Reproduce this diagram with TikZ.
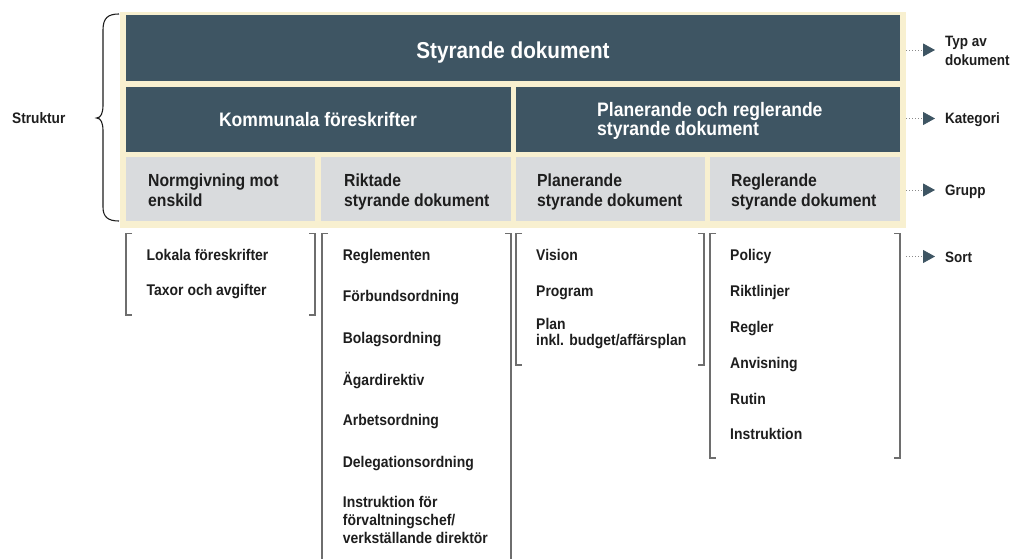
\documentclass[tikz,border=0pt]{standalone}
\usepackage{fontspec}
\setmainfont{Liberation Sans}[FakeStretch=0.9]
\usetikzlibrary{arrows.meta}

\definecolor{slate}{HTML}{3E5563}
\definecolor{cream}{HTML}{F8F0D0}
\definecolor{paleg}{HTML}{D9DBDD}
\definecolor{ink}{HTML}{1E1E1E}
\definecolor{rulegray}{HTML}{6E6E6E}
\definecolor{dotgray}{HTML}{8A8A8A}

% multi-line texts are placed by the baseline of their last line
\tikzset{
  panel/.style={anchor=north west, inner sep=0pt, outer sep=0pt, draw=none},
  darkbox/.style={panel, fill=slate},
  lightbox/.style={panel, fill=paleg},
  headtxt/.style={inner sep=0pt, text=white, font=\bfseries\fontsize{19.5}{19}\selectfont, align=left},
  grouptxt/.style={inner sep=0pt, text=ink, font=\bfseries\fontsize{17.5}{20.5}\selectfont, align=left, anchor=base west},
  itemtxt/.style={inner sep=0pt, text=ink, font=\bfseries\fontsize{15.5}{18}\selectfont, align=left, anchor=base west},
  sidetxt/.style={inner sep=0pt, text=ink, font=\bfseries\fontsize{15}{19}\selectfont, align=left, anchor=base west},
  bracket/.style={draw=rulegray, line width=1.3pt},
  pointer/.style={draw=dotgray, line width=0.8pt, dash pattern=on 0.8pt off 2.2pt,
    -{Triangle[length=12pt, width=13pt, fill=slate, color=slate]}},
  bracecurve/.style={draw=ink, line width=1.1pt}
}

\begin{document}
\begin{tikzpicture}[x=1pt, y=-1pt]
  \path[use as bounding box, fill=white] (0,0) rectangle (1013,559);

  % cream frame holding the three levels
  \node[panel, fill=cream, minimum width=786pt, minimum height=216pt] (frame) at (120,12) {};

  % level 1: document type
  \node[darkbox, minimum width=774pt, minimum height=66pt] (top) at (126,15) {};
  \node[headtxt, font=\bfseries\fontsize{23}{23}\selectfont, anchor=base] (tTop) at (513,59) {Styrande dokument};

  % level 2: categories
  \node[darkbox, minimum width=385pt, minimum height=65pt] (kom) at (126,87) {};
  \node[darkbox, minimum width=384pt, minimum height=65pt] (plan) at (516,87) {};
  \node[headtxt, anchor=base] (tKom) at (318,127) {Kommunala föreskrifter};
  \node[headtxt, anchor=base west] (tPlan) at (597,135.5) {Planerande och reglerande\\styrande dokument};

  % level 3: groups
  \node[lightbox, minimum width=189pt, minimum height=64pt] (g1) at (126,157) {};
  \node[lightbox, minimum width=190pt, minimum height=64pt] (g2) at (321,157) {};
  \node[lightbox, minimum width=189pt, minimum height=64pt] (g3) at (516,157) {};
  \node[lightbox, minimum width=190pt, minimum height=64pt] (g4) at (710,157) {};
  \node[grouptxt] (tG1) at (148,206.5) {Normgivning mot\\enskild};
  \node[grouptxt] (tG2) at (344,206.5) {Riktade\\styrande dokument};
  \node[grouptxt] (tG3) at (537,206.5) {Planerande\\styrande dokument};
  \node[grouptxt] (tG4) at (731,206.5) {Reglerande\\styrande dokument};

  % brace and its label
  \draw[bracecurve] (119,14) .. controls (108,14) and (103,18) .. (103,30)
    -- (103,105) .. controls (103,113) and (101,118) .. (96.5,118)
    .. controls (101,118) and (103,123) .. (103,131)
    -- (103,207) .. controls (103,217) and (108,221) .. (119,221);
  \node[sidetxt, font=\bfseries\fontsize{15.2}{19}\selectfont] (struktur) at (12,124) {Struktur};

  % level 4: sorts, bracketed per group
  \draw[bracket] (132,233.5) -- (126,233.5) -- (126,315) -- (132,315);
  \draw[bracket] (309,233.5) -- (315,233.5) -- (315,315) -- (309,315);
  \draw[bracket] (328,233.5) -- (322,233.5) -- (322,562);
  \draw[bracket] (505,233.5) -- (511,233.5) -- (511,562);
  \draw[bracket] (522,233.5) -- (516,233.5) -- (516,365) -- (522,365);
  \draw[bracket] (698,233.5) -- (704,233.5) -- (704,365) -- (698,365);
  \draw[bracket] (716,233.5) -- (710,233.5) -- (710,458) -- (716,458);
  \draw[bracket] (894,233.5) -- (900,233.5) -- (900,458) -- (894,458);

  \node[itemtxt] (s11) at (146.5,260.7) {Lokala föreskrifter};
  \node[itemtxt] (s12) at (146.5,295) {Taxor och avgifter};

  \node[itemtxt] (s21) at (342.7,261) {Reglementen};
  \node[itemtxt] (s22) at (342.7,301.7) {Förbundsordning};
  \node[itemtxt] (s23) at (342.7,343.3) {Bolagsordning};
  \node[itemtxt] (s24) at (342.7,385) {Ägardirektiv};
  \node[itemtxt] (s25) at (342.7,425.7) {Arbetsordning};
  \node[itemtxt] (s26) at (342.7,467.3) {Delegationsordning};
  \node[itemtxt] (s27) at (342.7,543.3) {Instruktion för\\förvaltningschef/\\verkställande direktör};

  \node[itemtxt] (s31) at (536,260.7) {Vision};
  \node[itemtxt] (s32) at (536,296) {Program};
  \node[itemtxt, font=\bfseries\fontsize{15.5}{16.5}\selectfont] (s33) at (536,345.8) {Plan\\inkl. budget/affärsplan};

  \node[itemtxt] (s41) at (730,260.7) {Policy};
  \node[itemtxt] (s42) at (730,296) {Riktlinjer};
  \node[itemtxt] (s43) at (730,332) {Regler};
  \node[itemtxt] (s44) at (730,368) {Anvisning};
  \node[itemtxt] (s45) at (730,404) {Rutin};
  \node[itemtxt] (s46) at (730,439) {Instruktion};

  % level names on the right
  \node[sidetxt] (lTyp) at (945,65.5) {Typ av\\dokument};
  \node[sidetxt] (lKat) at (945,124) {Kategori};
  \node[sidetxt] (lGrp) at (945,195.5) {Grupp};
  \node[sidetxt] (lSort) at (945,262) {Sort};

  \coordinate (pTyp) at (935,50);
  \coordinate (pKat) at (935,118.5);
  \coordinate (pGrp) at (935,190);
  \coordinate (pSort) at (935,256.5);

  \draw[pointer] (frame.east |- pTyp) -- (pTyp);
  \draw[pointer] (frame.east |- pKat) -- (pKat);
  \draw[pointer] (frame.east |- pGrp) -- (pGrp);
  \draw[pointer] (frame.east |- pSort) -- (pSort);
\end{tikzpicture}
\end{document}
